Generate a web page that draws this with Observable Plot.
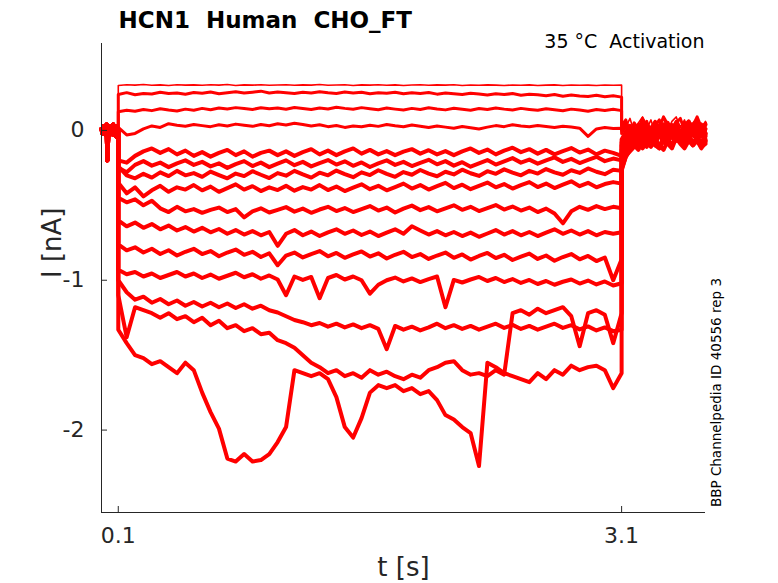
<!DOCTYPE html>
<html><head><meta charset="utf-8">
<script src="https://cdn.jsdelivr.net/npm/d3@7"></script>
<script src="https://cdn.jsdelivr.net/npm/@observablehq/plot@0.6"></script>
<style>
html,body{margin:0;padding:0;background:#fff;}
svg text{white-space:pre;}
</style></head><body><div id="chart"></div>
<script>
// ---- texts ----
const titleText = "HCN1  Human  CHO_FT";
const condText = "35 °C  Activation";
const sideText = "BBP Channelpedia ID 40556 rep 3";
const xLabel = "t [s]";
const yLabel = "I [nA]";
const xTicks = [0.1, 3.1];
const yTicks = [0, -1, -2];

// ---- sample times (s) ----
const holdT = [0.000,0.005,0.010,0.015,0.020,0.025,0.030,0.035,0.040,0.045,0.050,0.055,0.060,0.065,0.070,0.075,0.080,0.085,0.090,0.095,0.100];
const stepT = [0.10,0.15,0.20,0.25,0.30,0.35,0.40,0.45,0.50,0.55,
  0.60,0.65,0.70,0.75,0.80,0.85,0.90,0.95,1.00,1.05,
  1.10,1.15,1.20,1.25,1.30,1.35,1.40,1.45,1.50,1.55,
  1.60,1.65,1.70,1.75,1.80,1.85,1.90,1.95,2.00,2.05,
  2.10,2.15,2.20,2.25,2.30,2.35,2.40,2.45,2.50,2.55,
  2.60,2.65,2.70,2.75,2.80,2.85,2.90,2.95,3.00,3.05,
  3.10];
const tailT = [3.100,3.125,3.150,3.175,3.200,3.225,3.250,3.275,3.300,3.325,3.350,3.375,3.400,3.425,3.450,3.475,3.500,3.525,3.550,3.575,3.600];

// ---- holding current (nA) ----
const holdI = [0.01,-0.02,0.03,-0.01,0.02,-0.03,0.04,-0.20,-0.05,0.02,-0.03,0.03,-0.02,0.01,0.04,-0.03,0.02,-0.04,0.03,-0.01,0.00];

// ---- step currents (nA), one per sweep ----
const step1 = [0.300,0.305,0.302,0.306,0.301,0.304,0.300,0.305,0.302,0.304,
  0.301,0.305,0.302,0.306,0.300,0.304,0.302,0.305,0.301,0.303,
  0.305,0.301,0.304,0.302,0.306,0.301,0.303,0.305,0.300,0.304,
  0.302,0.305,0.301,0.304,0.300,0.303,0.305,0.301,0.304,0.302,
  0.305,0.300,0.303,0.301,0.304,0.302,0.300,0.303,0.301,0.304,
  0.300,0.302,0.304,0.300,0.303,0.301,0.302,0.300,0.303,0.301,
  0.302];
const step2 = [0.240,0.252,0.238,0.247,0.243,0.255,0.246,0.250,0.241,0.253,
  0.248,0.256,0.245,0.252,0.258,0.249,0.255,0.262,0.250,0.257,
  0.252,0.246,0.255,0.249,0.258,0.251,0.247,0.256,0.250,0.254,
  0.245,0.252,0.248,0.255,0.244,0.251,0.247,0.253,0.242,0.249,
  0.245,0.240,0.248,0.243,0.236,0.244,0.239,0.246,0.235,0.242,
  0.238,0.232,0.240,0.228,0.236,0.230,0.226,0.234,0.225,0.231,
  0.222];
const step3 = [0.125,0.135,0.128,0.140,0.132,0.145,0.136,0.130,0.142,0.135,
  0.147,0.138,0.150,0.143,0.152,0.146,0.140,0.151,0.144,0.149,
  0.141,0.153,0.146,0.139,0.150,0.143,0.155,0.147,0.141,0.152,
  0.145,0.138,0.149,0.142,0.136,0.147,0.140,0.151,0.143,0.137,
  0.148,0.141,0.135,0.146,0.139,0.150,0.142,0.136,0.147,0.140,
  0.134,0.145,0.138,0.131,0.142,0.136,0.128,0.139,0.133,0.141,
  0.132];
const step4 = [0.020,-0.030,-0.020,0.010,0.030,0.020,0.045,0.035,0.028,0.040,
  0.032,0.025,0.038,0.030,0.042,0.034,0.027,0.039,0.031,0.044,
  0.036,0.048,0.040,0.030,0.038,0.025,0.033,0.020,0.029,0.024,
  0.035,0.027,0.040,0.031,0.024,0.036,0.028,0.019,0.030,0.022,
  0.014,0.026,0.018,0.010,0.022,0.032,0.025,0.038,0.030,0.024,
  0.033,0.026,0.019,0.028,0.022,0.015,-0.040,0.010,0.020,0.012,
  0.015];
const step5 = [-0.200,-0.215,-0.170,-0.140,-0.120,-0.150,-0.125,-0.160,-0.135,-0.170,
  -0.145,-0.175,-0.150,-0.130,-0.165,-0.140,-0.175,-0.150,-0.135,-0.165,
  -0.140,-0.170,-0.145,-0.125,-0.160,-0.135,-0.165,-0.140,-0.120,-0.155,
  -0.130,-0.160,-0.138,-0.165,-0.142,-0.125,-0.155,-0.132,-0.160,-0.138,
  -0.165,-0.140,-0.120,-0.150,-0.128,-0.160,-0.135,-0.115,-0.145,-0.125,
  -0.155,-0.130,-0.160,-0.138,-0.118,-0.148,-0.128,-0.160,-0.135,-0.150,
  -0.170];
const step6 = [-0.250,-0.280,-0.230,-0.205,-0.235,-0.215,-0.245,-0.220,-0.200,-0.230,
  -0.210,-0.240,-0.220,-0.250,-0.225,-0.205,-0.238,-0.215,-0.245,-0.222,
  -0.200,-0.232,-0.210,-0.240,-0.218,-0.198,-0.228,-0.206,-0.236,-0.214,
  -0.244,-0.220,-0.200,-0.230,-0.210,-0.238,-0.216,-0.196,-0.226,-0.205,
  -0.235,-0.212,-0.242,-0.220,-0.198,-0.228,-0.206,-0.185,-0.215,-0.195,
  -0.222,-0.200,-0.180,-0.210,-0.190,-0.218,-0.196,-0.176,-0.205,-0.188,
  -0.200];
const step7 = [-0.240,-0.300,-0.320,-0.290,-0.315,-0.280,-0.305,-0.270,-0.300,-0.285,
  -0.310,-0.275,-0.298,-0.320,-0.288,-0.305,-0.272,-0.296,-0.318,-0.285,
  -0.302,-0.270,-0.294,-0.315,-0.282,-0.300,-0.268,-0.292,-0.312,-0.280,
  -0.298,-0.266,-0.290,-0.310,-0.278,-0.296,-0.264,-0.288,-0.306,-0.276,
  -0.294,-0.262,-0.286,-0.304,-0.272,-0.290,-0.260,-0.282,-0.300,-0.270,
  -0.288,-0.258,-0.280,-0.296,-0.266,-0.284,-0.254,-0.276,-0.292,-0.262,
  -0.270];
const step8 = [-0.350,-0.420,-0.380,-0.440,-0.400,-0.370,-0.410,-0.380,-0.395,-0.365,
  -0.400,-0.375,-0.410,-0.385,-0.360,-0.395,-0.372,-0.405,-0.380,-0.398,
  -0.370,-0.402,-0.378,-0.395,-0.365,-0.398,-0.375,-0.405,-0.382,-0.360,
  -0.392,-0.370,-0.400,-0.378,-0.355,-0.388,-0.365,-0.395,-0.372,-0.350,
  -0.385,-0.362,-0.392,-0.370,-0.348,-0.380,-0.358,-0.388,-0.365,-0.345,
  -0.378,-0.355,-0.385,-0.362,-0.340,-0.372,-0.350,-0.380,-0.358,-0.345,
  -0.355];
const step9 = [-0.450,-0.480,-0.460,-0.500,-0.470,-0.520,-0.545,-0.510,-0.540,-0.525,
  -0.550,-0.530,-0.515,-0.545,-0.525,-0.580,-0.540,-0.520,-0.548,-0.530,
  -0.512,-0.542,-0.522,-0.550,-0.528,-0.510,-0.538,-0.518,-0.545,-0.525,
  -0.505,-0.535,-0.515,-0.548,-0.522,-0.502,-0.532,-0.512,-0.540,-0.520,
  -0.500,-0.530,-0.510,-0.538,-0.518,-0.498,-0.528,-0.508,-0.535,-0.515,
  -0.545,-0.522,-0.555,-0.620,-0.540,-0.510,-0.530,-0.505,-0.525,-0.510,
  -0.520];
const step10 = [-0.600,-0.640,-0.615,-0.650,-0.625,-0.660,-0.635,-0.668,-0.645,-0.675,
  -0.650,-0.680,-0.658,-0.690,-0.665,-0.695,-0.672,-0.700,-0.678,-0.770,
  -0.690,-0.665,-0.700,-0.675,-0.705,-0.680,-0.660,-0.690,-0.668,-0.698,
  -0.675,-0.705,-0.682,-0.660,-0.690,-0.640,-0.668,-0.695,-0.672,-0.700,
  -0.678,-0.705,-0.682,-0.710,-0.688,-0.665,-0.695,-0.672,-0.700,-0.678,
  -0.705,-0.682,-0.660,-0.690,-0.668,-0.695,-0.672,-0.700,-0.678,-0.690,
  -0.680];
const step11 = [-0.760,-0.800,-0.780,-0.815,-0.790,-0.825,-0.800,-0.835,-0.810,-0.790,
  -0.825,-0.805,-0.840,-0.815,-0.795,-0.830,-0.810,-0.845,-0.820,-0.900,
  -0.835,-0.815,-0.848,-0.825,-0.805,-0.840,-0.818,-0.850,-0.828,-0.808,
  -0.842,-0.820,-0.855,-0.830,-0.810,-0.845,-0.825,-0.858,-0.835,-0.815,
  -0.850,-0.828,-0.862,-0.838,-0.818,-0.852,-0.830,-0.865,-0.842,-0.822,
  -0.858,-0.835,-0.870,-0.845,-0.825,-0.860,-0.838,-0.872,-0.848,-1.000,
  -0.860];
const step12 = [-0.930,-0.960,-0.945,-0.975,-0.955,-0.985,-0.965,-0.945,-0.975,-0.955,
  -0.985,-0.962,-0.990,-0.970,-0.950,-0.980,-0.960,-0.990,-0.968,-0.995,
  -1.100,-0.975,-0.998,-0.978,-1.120,-0.985,-0.965,-0.995,-0.975,-1.000,
  -1.090,-1.030,-1.000,-0.982,-1.008,-0.988,-1.012,-0.992,-0.975,-1.180,
  -0.998,-1.015,-0.995,-0.978,-1.005,-0.985,-1.012,-0.992,-1.018,-0.998,
  -1.025,-1.005,-1.030,-1.010,-0.995,-1.022,-1.002,-1.028,-1.008,-1.035,
  -1.020];
const step13 = [-1.000,-1.080,-1.130,-1.110,-1.150,-1.125,-1.160,-1.135,-1.170,-1.145,
  -1.175,-1.150,-1.180,-1.155,-1.185,-1.160,-1.190,-1.170,-1.200,-1.215,
  -1.240,-1.265,-1.280,-1.300,-1.285,-1.310,-1.290,-1.315,-1.295,-1.320,
  -1.300,-1.325,-1.460,-1.305,-1.330,-1.310,-1.335,-1.315,-1.290,-1.320,
  -1.300,-1.325,-1.305,-1.330,-1.310,-1.290,-1.318,-1.298,-1.325,-1.305,
  -1.330,-1.310,-1.290,-1.318,-1.300,-1.328,-1.308,-1.335,-1.315,-1.340,
  -1.330];
const step14 = [-1.100,-1.380,-1.180,-1.200,-1.220,-1.250,-1.220,-1.260,-1.240,-1.280,
  -1.250,-1.300,-1.270,-1.320,-1.300,-1.340,-1.320,-1.360,-1.350,-1.400,
  -1.420,-1.450,-1.500,-1.550,-1.580,-1.620,-1.600,-1.640,-1.620,-1.650,
  -1.600,-1.630,-1.610,-1.640,-1.660,-1.630,-1.650,-1.600,-1.580,-1.550,
  -1.540,-1.600,-1.630,-1.620,-1.640,-1.600,-1.630,-1.220,-1.200,-1.230,
  -1.190,-1.220,-1.200,-1.180,-1.240,-1.440,-1.220,-1.200,-1.230,-1.420,
  -1.220];
const step15 = [-1.330,-1.420,-1.500,-1.520,-1.560,-1.540,-1.580,-1.620,-1.550,-1.600,
  -1.750,-1.880,-1.990,-2.190,-2.210,-2.160,-2.210,-2.200,-2.160,-2.080,
  -1.980,-1.600,-1.620,-1.640,-1.620,-1.660,-1.780,-1.980,-2.050,-1.920,
  -1.750,-1.700,-1.720,-1.700,-1.740,-1.720,-1.760,-1.740,-1.800,-1.900,
  -1.930,-1.980,-2.020,-2.240,-1.550,-1.580,-1.620,-1.640,-1.660,-1.680,
  -1.620,-1.660,-1.600,-1.630,-1.570,-1.600,-1.580,-1.570,-1.600,-1.720,
  -1.620];

// ---- tail currents (nA) after the step ----
const tail1 = [0.06,0.02,0.08,-0.01,0.05,0.09,0.01,0.07,-0.02,0.04,0.08,0.00,0.06,0.09,0.02,0.07,-0.01,0.05,0.08,0.01,0.06];
const tail2 = [0.03,0.07,-0.02,0.05,0.01,0.08,0.03,-0.01,0.06,0.02,0.09,0.04,-0.02,0.05,0.08,0.00,0.06,0.03,0.09,0.02,0.05];
const tail3 = [0.00,0.05,0.01,-0.04,0.04,0.00,0.06,-0.03,0.03,0.07,-0.01,0.04,0.01,0.06,-0.02,0.05,0.02,-0.01,0.06,0.03,0.00];
const tail4 = [-0.02,0.03,-0.04,0.02,-0.01,0.05,-0.03,0.02,0.06,-0.02,0.03,-0.04,0.04,0.01,-0.03,0.05,0.00,0.04,-0.02,0.03,0.01];
const tail5 = [-0.06,-0.01,0.03,-0.04,0.02,-0.02,0.04,0.00,-0.05,0.03,-0.01,0.05,-0.03,0.02,-0.04,0.03,0.06,-0.02,0.02,-0.03,0.04];
const tail6 = [-0.08,-0.04,0.00,-0.05,0.02,-0.03,0.01,-0.06,0.03,-0.02,0.04,-0.04,0.00,0.05,-0.03,0.01,-0.05,0.03,-0.01,0.04,-0.02];
const tail7 = [-0.10,-0.06,-0.02,-0.07,0.00,-0.04,0.02,-0.05,-0.01,0.03,-0.06,0.00,-0.03,0.04,-0.02,-0.06,0.02,-0.03,0.03,-0.04,0.01];
const tail8 = [-0.13,-0.08,-0.04,-0.09,-0.02,-0.06,0.01,-0.05,-0.08,-0.01,-0.05,0.02,-0.04,-0.07,0.00,-0.05,0.03,-0.03,-0.06,0.01,-0.02];
const tail9 = [-0.15,-0.10,-0.06,-0.03,-0.08,-0.02,-0.06,0.00,-0.07,-0.03,-0.08,-0.01,-0.05,0.02,-0.06,-0.02,-0.07,0.00,-0.04,-0.08,-0.03];
const tail10 = [-0.18,-0.12,-0.08,-0.10,-0.04,-0.09,-0.03,-0.07,-0.10,-0.02,-0.06,-0.09,-0.01,-0.05,-0.08,-0.03,-0.07,0.00,-0.05,-0.09,-0.04];
const tail11 = [-0.21,-0.14,-0.10,-0.06,-0.11,-0.05,-0.09,-0.03,-0.08,-0.11,-0.04,-0.07,-0.10,-0.02,-0.06,-0.09,-0.03,-0.08,-0.05,-0.10,-0.06];
const tail12 = [-0.24,-0.16,-0.12,-0.08,-0.12,-0.06,-0.10,-0.04,-0.09,-0.12,-0.05,-0.08,-0.11,-0.03,-0.07,-0.10,-0.04,-0.09,-0.06,-0.11,-0.07];
const tail13 = [-0.26,-0.18,-0.13,-0.10,-0.13,-0.07,-0.11,-0.06,-0.10,-0.12,-0.07,-0.09,-0.12,-0.05,-0.08,-0.11,-0.06,-0.10,-0.07,-0.12,-0.08];
const tail14 = [-0.27,-0.17,-0.14,-0.11,-0.09,-0.12,-0.08,-0.11,-0.06,-0.10,-0.13,-0.07,-0.10,-0.05,-0.09,-0.12,-0.07,-0.10,-0.06,-0.11,-0.09];
const tail15 = [-0.25,-0.15,-0.12,-0.09,-0.11,-0.07,-0.10,-0.05,-0.09,-0.11,-0.06,-0.08,-0.10,-0.04,-0.07,-0.10,-0.05,-0.09,-0.06,-0.10,-0.07];

const steps = [step1,step2,step3,step4,step5,step6,step7,step8,step9,step10,step11,step12,step13,step14,step15];
const tails = [tail1,tail2,tail3,tail4,tail5,tail6,tail7,tail8,tail9,tail10,tail11,tail12,tail13,tail14,tail15];

// ---- build long table: one row per sample ----
const rows = [];
steps.forEach((s, k) => {
  holdT.forEach((t, j) => rows.push({sweep: k, t, I: holdI[j]}));
  stepT.forEach((t, j) => rows.push({sweep: k, t, I: s[j]}));
  tailT.forEach((t, j) => rows.push({sweep: k, t, I: tails[k][j]}));
});

const red = "#ff0000";
const ink = "#262626";
const font = "DejaVu Sans";

const chart = Plot.plot({
  width: 778,
  height: 583,
  marginTop: 43,
  marginBottom: 71,
  marginLeft: 101,
  marginRight: 73,
  x: {domain: [0, 3.6]},
  y: {domain: [-2.55, 0.58]},
  style: {fontFamily: font, background: "#fff", color: ink},
  marks: [
    Plot.line(rows.filter(d => d.sweep === 0), {x: "t", y: "I", z: "sweep", stroke: red, strokeWidth: 1.6}),
    Plot.line(rows.filter(d => d.sweep >= 1 && d.sweep <= 3), {x: "t", y: "I", z: "sweep", stroke: red, strokeWidth: 3}),
    Plot.line(rows.filter(d => d.sweep >= 4), {x: "t", y: "I", z: "sweep", stroke: red, strokeWidth: 4}),
    Plot.ruleX([0], {stroke: ink, strokeWidth: 1}),
    Plot.ruleY([-2.55], {stroke: ink, strokeWidth: 1}),
    Plot.ruleX(xTicks, {stroke: ink, insetTop: 463}),
    Plot.ruleY(yTicks, {stroke: ink, insetRight: 598}),
    Plot.axisX({ticks: xTicks, tickSize: 0, tickPadding: 15, fontSize: 22, fill: ink, tickFormat: d => d.toFixed(1), label: null}),
    Plot.axisY({ticks: yTicks, tickSize: 0, tickPadding: 17, fontSize: 22, fill: ink, tickFormat: d => String(d), label: null}),
    Plot.text([xLabel], {frameAnchor: "bottom", dy: 55, fontSize: 26, fill: ink, lineAnchor: "middle"}),
    Plot.text([yLabel], {frameAnchor: "left", dx: -49, rotate: -90, fontSize: 26, fill: ink, lineAnchor: "middle"}),
    Plot.text([titleText], {frameAnchor: "top-left", dx: 17, dy: -16, textAnchor: "start", lineAnchor: "bottom", fontSize: 23, fontWeight: "bold", fill: "#000"}),
    Plot.text([condText], {frameAnchor: "top-right", dx: -1, dy: 4, textAnchor: "end", lineAnchor: "bottom", fontSize: 19, fill: "#000"}),
    Plot.text([sideText], {frameAnchor: "right", dx: 11, rotate: -90, fontSize: 13.5, fill: "#000", lineAnchor: "middle"})
  ]
});
document.getElementById("chart").appendChild(chart);
</script>
</body></html>
